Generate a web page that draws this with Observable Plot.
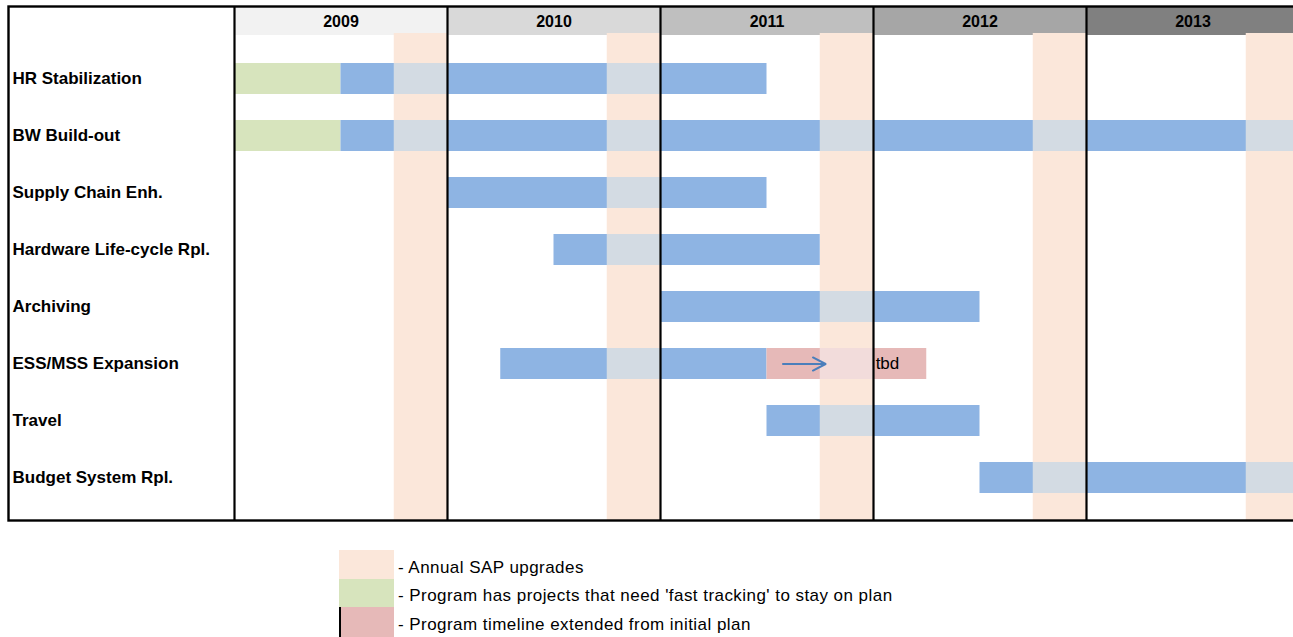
<!DOCTYPE html>
<html><head><meta charset="utf-8">
<script src="https://cdn.jsdelivr.net/npm/d3@7"></script>
<script src="https://cdn.jsdelivr.net/npm/@observablehq/plot@0.6"></script>
<style>
body{margin:0;background:#fff;overflow:hidden;font-family:"Liberation Sans",Arial,sans-serif;}
#chart svg{overflow:hidden;display:block}
.legend{margin-left:339px;margin-top:13px}
.lrow{display:flex;align-items:center}
.sw{width:55px;box-sizing:border-box;flex:none}
.lt{font-size:17px;letter-spacing:0.45px;padding-left:4px;color:#000;position:relative;top:3px;white-space:nowrap}
</style></head><body><div id="chart"></div><div class="legend" id="legend"></div>
<script>
// ---- data ----
const programs = ["HR Stabilization","BW Build-out","Supply Chain Enh.","Hardware Life-cycle Rpl.","Archiving","ESS/MSS Expansion","Travel","Budget System Rpl."];
const years = [2009,2010,2011,2012,2013];
const yearFills = ["#f2f2f2","#d9d9d9","#bfbfbf","#a6a6a6","#808080"];
const upgradeStarts = [2009.75,2010.75,2011.75,2012.75,2013.75];
const segProgram = ["HR Stabilization","HR Stabilization","BW Build-out","BW Build-out","Supply Chain Enh.","Hardware Life-cycle Rpl.","Archiving","ESS/MSS Expansion","ESS/MSS Expansion","Travel","Budget System Rpl."];
const segStart  = [2009,  2009.5, 2009,  2009.5, 2010,   2010.5,  2011,   2010.25, 2011.5,  2011.5, 2012.5];
const segEnd    = [2009.5,2011.5, 2009.5,2014,   2011.5, 2011.75, 2012.5, 2011.5,  2012.25, 2012.5, 2014];
const segStatus = ["fast","plan","fast","plan","plan","plan","plan","plan","extended","plan","plan"];
const statusColor = {fast:"#d7e4bd", plan:"#8eb4e3", extended:"#e6b9b8"};
const overlapColor = {fast:"#e6ead3", plan:"#d3dbe3", extended:"#f2dcdb"};
const upgradeColor = "#fbe7da";
const arrowNote = [{program:"ESS/MSS Expansion", from:2011.575, to:2011.775}];
const tbdNote = [{program:"ESS/MSS Expansion", at:2012.01, text:"tbd"}];
const legendItems = [
  {color:"#fbe7da", label:"- Annual SAP upgrades"},
  {color:"#d7e4bd", label:"- Program has projects that need 'fast tracking' to stay on plan"},
  {color:"#e6b9b8", label:"- Program timeline extended from initial plan"}
];

// ---- derived tables ----
const segments = segProgram.map((p,i)=>({program:p,start:segStart[i],end:segEnd[i],status:segStatus[i]}));
const overlaps = [];
for (const s of segments) for (const u of upgradeStarts) {
  const a = Math.max(s.start,u), b = Math.min(s.end,u+0.25);
  if (a < b) overlaps.push({program:s.program,start:a,end:b,status:s.status});
}
const yearRows = years.map((y,i)=>({year:y, fill:yearFills[i]}));

const labelFont = `"Liberation Sans",Arial,sans-serif`;

const chart = Plot.plot({
  width:1293, height:537,
  marginLeft:234, marginRight:0, marginTop:33, marginBottom:17,
  x:{domain:[2009,2014], range:[234,1299], axis:null},
  y:{domain:programs, paddingInner:0, paddingOuter:0.25, align:0.536, axis:null},
  color:{type:"identity"},
  style:{fontFamily:labelFont, background:"white"},
  marks:[
    Plot.rect(yearRows, {x1:"year", x2:d=>d.year+1, fill:"fill", insetTop:-27, insetBottom:485}),
    Plot.rect(upgradeStarts, {x1:d=>d, x2:d=>d+0.25, fill:upgradeColor}),
    Plot.barX(segments, {x1:"start", x2:"end", y:"program", fill:d=>statusColor[d.status], insetTop:13, insetBottom:13}),
    Plot.barX(overlaps, {x1:"start", x2:"end", y:"program", fill:d=>overlapColor[d.status], insetTop:13, insetBottom:13}),
    Plot.ruleX(years, {stroke:"black", strokeWidth:2.2, insetTop:-27}),
    Plot.frame({stroke:"black", strokeWidth:2.4, insetLeft:-226, insetTop:-27, insetRight:-20}),
    Plot.arrow(arrowNote, {x1:"from", x2:"to", y1:"program", y2:"program", stroke:"#4a7ebb", strokeWidth:2, headLength:11, headAngle:55}),
    Plot.text(tbdNote, {x:"at", y:"program", text:"text", textAnchor:"start", fontSize:17, fill:"black"}),
    Plot.text(yearRows, {x:d=>d.year+0.5, frameAnchor:"top", lineAnchor:"middle", dy:-12, text:d=>String(d.year), fontWeight:"bold", fontSize:16, fill:"black"}),
    Plot.text(programs, {y:d=>d, frameAnchor:"left", dx:-222, textAnchor:"start", text:d=>d, fontWeight:"bold", fontSize:17, fill:"black"})
  ]
});
document.getElementById("chart").appendChild(chart);

const lg = document.getElementById("legend");
const heights = [29,28,30];
legendItems.forEach((it,i)=>{
  const r = document.createElement("div"); r.className="lrow"; r.style.height=heights[i]+"px";
  const s = document.createElement("div"); s.className="sw"; s.style.height=heights[i]+"px"; s.style.background=it.color;
  if (i===2) s.style.borderLeft="2px solid #000";
  const t = document.createElement("div"); t.className="lt"; t.textContent=it.label;
  r.appendChild(s); r.appendChild(t); lg.appendChild(r);
});
</script></body></html>
